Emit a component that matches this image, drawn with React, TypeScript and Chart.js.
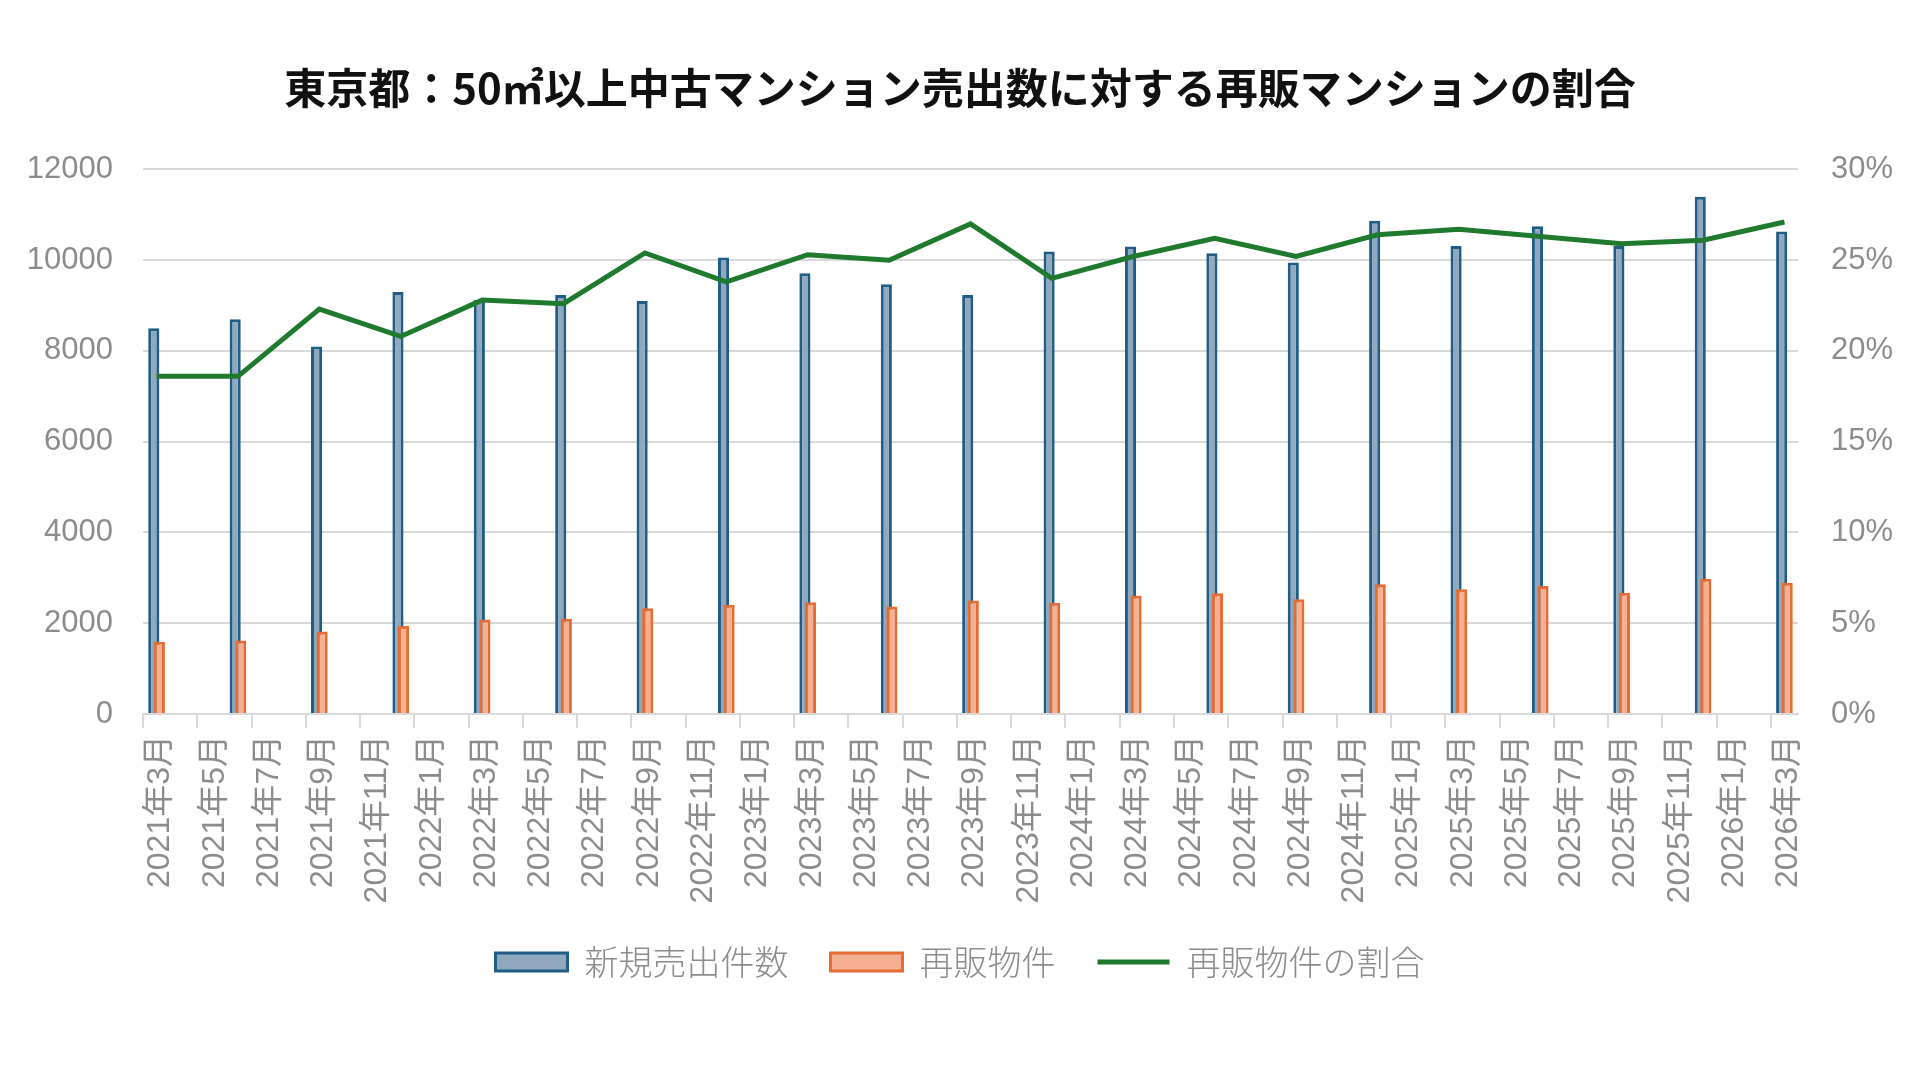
import { useEffect, useRef } from 'react';
import { Chart, registerables } from 'chart.js';

Chart.register(...registerables);

// Quarterly observations (month of record)
const quarterLabels = [
  '2021年3月', '2021年6月', '2021年9月', '2021年12月',
  '2022年3月', '2022年6月', '2022年9月', '2022年12月',
  '2023年3月', '2023年6月', '2023年9月', '2023年12月',
  '2024年3月', '2024年6月', '2024年9月', '2024年12月',
  '2025年3月', '2025年6月', '2025年9月', '2025年12月',
  '2026年3月',
];

// 新規売出件数
const newListings = [
  8500, 8700, 8100, 9300,
  9120, 9230, 9100, 10060,
  9710, 9470, 9230, 10190,
  10300, 10150, 9950, 10870,
  10310, 10750, 10310, 11400,
  10630,
];

// 再販物件
const resaleListings = [
  1590, 1620, 1820, 1940,
  2080, 2100, 2330, 2410,
  2460, 2370, 2500, 2450,
  2610, 2660, 2530, 2860,
  2750, 2820, 2670, 2980,
  2890,
];

// 再販物件の割合 (%)
const resaleShare = [
  18.6, 18.6, 22.3, 20.8,
  22.8, 22.6, 25.4, 23.8,
  25.3, 25.0, 27.0, 24.0,
  25.2, 26.2, 25.2, 26.4,
  26.7, 26.3, 25.9, 26.1,
  27.1,
];

const seriesNames = ['新規売出件数', '再販物件', '再販物件の割合'];
const chartTitle = '東京都：50㎡以上中古マンション売出数に対する再販マンションの割合';

// Monthly date axis from 2021年3月 to 2026年3月
const axisStart = { year: 2021, month: 3 };
const axisEnd = { year: 2026, month: 3 };
const axisMonths: string[] = [];
for (let y = axisStart.year, m = axisStart.month; y < axisEnd.year || (y === axisEnd.year && m <= axisEnd.month); ) {
  axisMonths.push(`${y}年${m}月`);
  m += 1;
  if (m > 12) {
    m = 1;
    y += 1;
  }
}

const onAxis = (values: number[]) =>
  axisMonths.map((label) => {
    const i = quarterLabels.indexOf(label);
    return i >= 0 ? values[i] : null;
  });

const GRID = '#d9d9d9';
const TEXT_GRAY = '#8c8c8c';
const TICK_FAMILY = "'Liberation Sans', 'Noto Sans CJK JP', sans-serif";
const CJK_FAMILY = "'Noto Sans CJK JP', 'Liberation Sans', sans-serif";

const BLUE_FILL = '#8fa8be';
const BLUE_EDGE = '#1f5d86';
const ORANGE_FILL = '#f4b091';
const ORANGE_EDGE = '#e56d34';
const GREEN = '#1f7a2e';

// Draw the resale bars after the new-listing bars so they sit on top where they overlap
const resaleOnTop = {
  id: 'resaleOnTop',
  beforeDatasetDraw(_chart: any, args: any) {
    if (args.index === 1) return false;
    return true;
  },
  afterDatasetDraw(chart: any, args: any) {
    if (args.index === 0) chart.getDatasetMeta(1).controller.draw();
  },
};

export default function App() {
  const canvasRef = useRef<HTMLCanvasElement>(null);

  useEffect(() => {
    if (!canvasRef.current) return;
    const chart = new Chart(canvasRef.current, {
      type: 'bar',
      data: {
        labels: axisMonths,
        datasets: [
          {
            type: 'bar',
            label: seriesNames[0],
            data: onAxis(newListings),
            backgroundColor: BLUE_FILL,
            borderColor: BLUE_EDGE,
            borderWidth: 3,
            categoryPercentage: 0.41,
            barPercentage: 2.0,
            yAxisID: 'y',
            order: 1,
          },
          {
            type: 'bar',
            label: seriesNames[1],
            data: onAxis(resaleListings),
            backgroundColor: ORANGE_FILL,
            borderColor: ORANGE_EDGE,
            borderWidth: 3,
            categoryPercentage: 0.41,
            barPercentage: 2.0,
            yAxisID: 'y',
            order: 1,
          },
          {
            type: 'line',
            label: seriesNames[2],
            data: onAxis(resaleShare),
            borderColor: GREEN,
            backgroundColor: GREEN,
            borderWidth: 5,
            pointRadius: 0,
            tension: 0,
            spanGaps: true,
            yAxisID: 'y2',
            order: 0,
          },
        ] as any,
      },
      options: {
        responsive: false,
        animation: false,
        layout: { padding: { top: 0, left: 0, right: 0, bottom: 91 } },
        plugins: {
          title: {
            display: true,
            text: chartTitle,
            color: '#111111',
            font: { family: CJK_FAMILY, size: 42, weight: 'bold' },
            padding: { top: 63, bottom: 56 },
          },
          legend: {
            position: 'bottom',
            labels: {
              usePointStyle: true,
              pointStyleWidth: 72,
              boxHeight: 18,
              padding: 42,
              color: TEXT_GRAY,
              font: { family: CJK_FAMILY, size: 34, weight: '300' as any },
              generateLabels: (c: any) =>
                c.data.datasets.map((ds: any, i: number) => ({
                  text: ds.label,
                  fillStyle: ds.backgroundColor,
                  strokeStyle: ds.borderColor,
                  lineWidth: ds.borderWidth,
                  pointStyle: ds.type === 'line' ? 'line' : 'rect',
                  hidden: false,
                  datasetIndex: i,
                  fontColor: TEXT_GRAY,
                })),
            },
          },
          tooltip: { enabled: false },
        },
        scales: {
          x: {
            type: 'category',
            offset: true,
            grid: {
              offset: true,
              drawOnChartArea: false,
              drawTicks: true,
              tickLength: 14,
              lineWidth: 2,
              color: (ctx: any) => (typeof ctx.index === 'number' && ctx.index % 2 === 0 ? GRID : 'rgba(0,0,0,0)'),
            },
            border: { display: true, color: GRID, width: 2 },
            ticks: {
              autoSkip: false,
              minRotation: 90,
              maxRotation: 90,
              padding: 7,
              labelOffset: 4,
              color: TEXT_GRAY,
              font: { family: TICK_FAMILY, size: 32 },
              callback: function (this: any, value: any, index: number) {
                return index % 2 === 0 ? this.getLabelForValue(value) : '';
              },
            },
            afterFit: (scale: any) => {
              scale.height = 189;
            },
          },
          y: {
            position: 'left',
            min: 0,
            max: 12000,
            ticks: {
              stepSize: 2000,
              padding: 30,
              color: TEXT_GRAY,
              font: { family: TICK_FAMILY, size: 31 },
              callback: (v: any) => String(v),
            },
            grid: { color: GRID, lineWidth: 2, drawTicks: false },
            border: { display: false },
            afterFit: (scale: any) => {
              scale.width = 143;
            },
          },
          y2: {
            position: 'right',
            min: 0,
            max: 30,
            ticks: {
              stepSize: 5,
              padding: 33,
              color: TEXT_GRAY,
              font: { family: TICK_FAMILY, size: 31 },
              callback: (v: any) => `${v}%`,
            },
            grid: { drawOnChartArea: false, drawTicks: false },
            border: { display: false },
            afterFit: (scale: any) => {
              scale.width = 122;
            },
          },
        },
      } as any,
      plugins: [resaleOnTop],
    });
    return () => chart.destroy();
  }, []);

  return (
    <div style={{ position: 'fixed', left: 0, top: 0, width: 1920, height: 1080, background: '#ffffff' }}>
      <canvas ref={canvasRef} width={1920} height={1080} style={{ display: 'block', width: 1920, height: 1080 }} />
    </div>
  );
}
